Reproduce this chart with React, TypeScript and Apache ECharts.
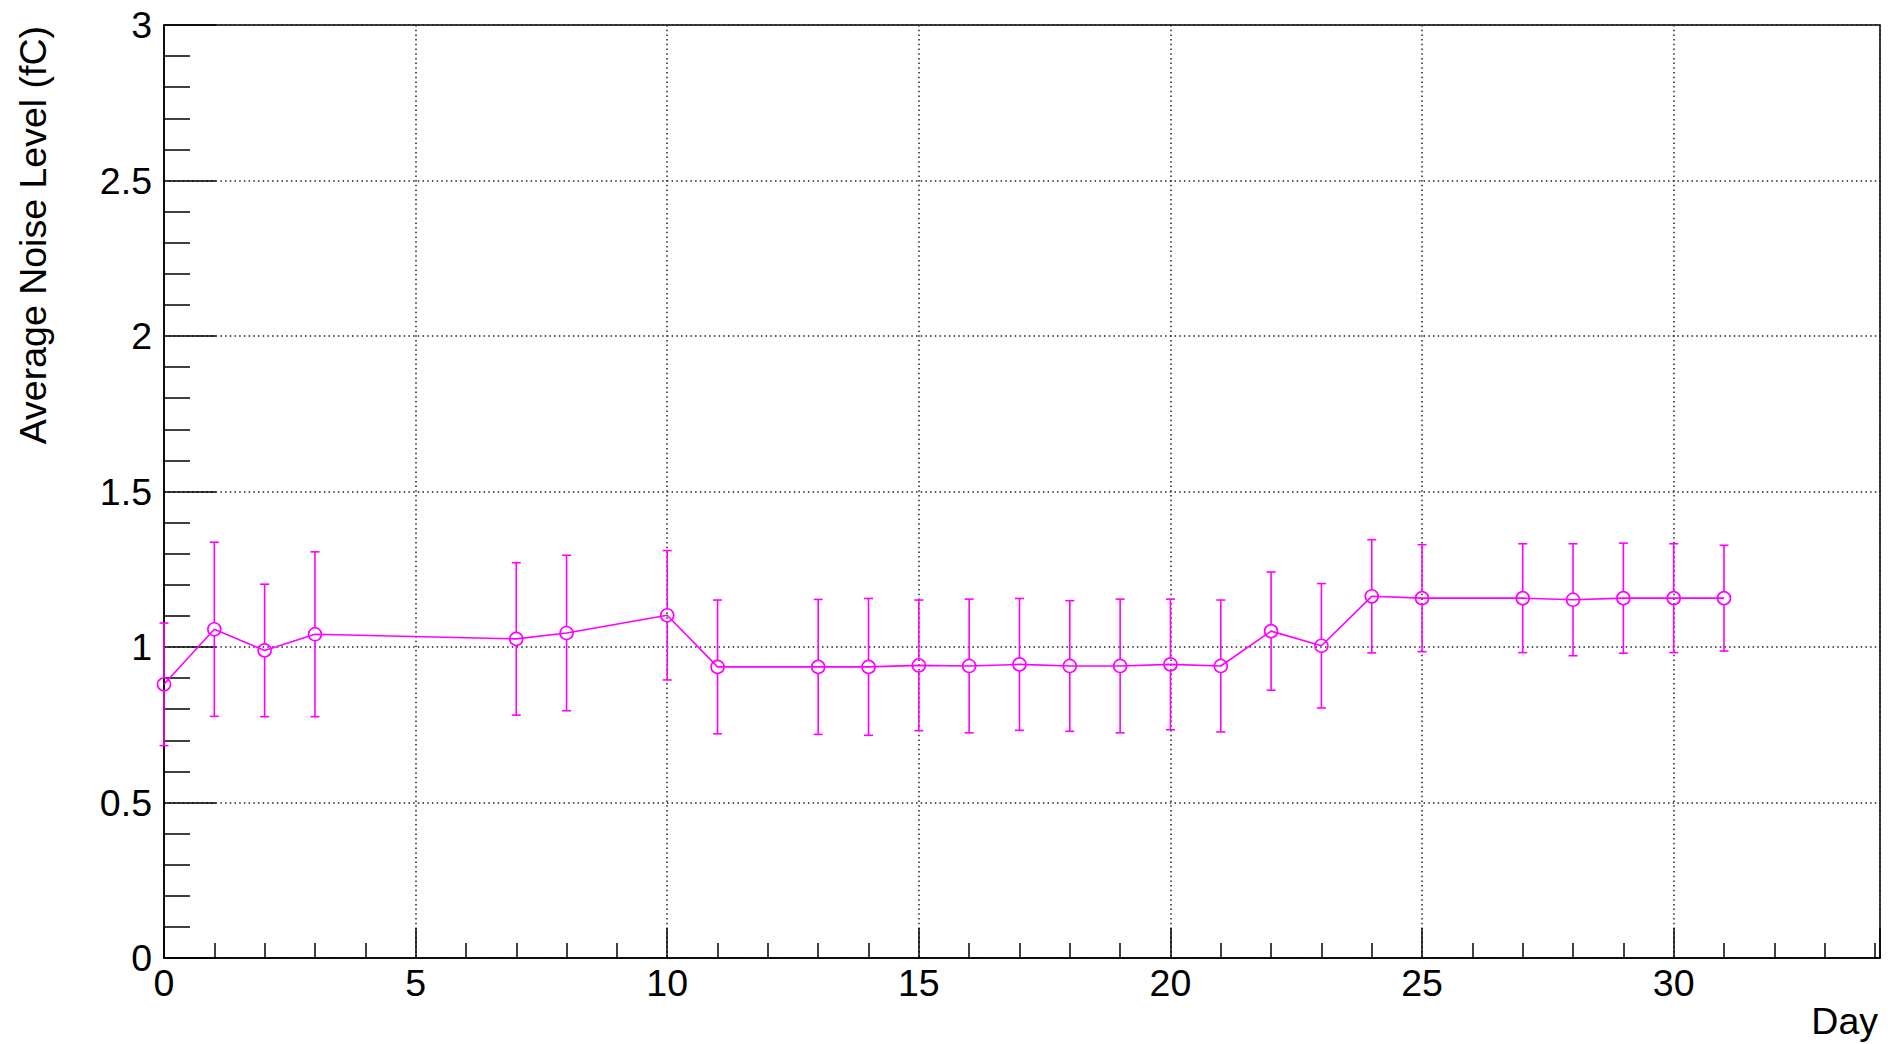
import React, { useEffect, useRef } from "react";
import * as echarts from "echarts";

const days = [0, 1, 2, 3, 7, 8, 10, 11, 13, 14, 15, 16, 17, 18, 19, 20, 21, 22, 23, 24, 25, 27, 28, 29, 30, 31];
const noise = [0.88, 1.057, 0.989, 1.041, 1.026, 1.045, 1.102, 0.936, 0.936, 0.936, 0.941, 0.939, 0.944, 0.939, 0.939, 0.944, 0.939, 1.051, 1.004, 1.163, 1.157, 1.157, 1.152, 1.157, 1.157, 1.157];
const noiseErr = [0.197, 0.28, 0.213, 0.265, 0.245, 0.25, 0.208, 0.215, 0.217, 0.22, 0.21, 0.215, 0.212, 0.21, 0.215, 0.21, 0.212, 0.19, 0.2, 0.182, 0.172, 0.175, 0.18, 0.177, 0.175, 0.17];
const xTitle = "Day";
const yTitle = "Average Noise Level (fC)";

const MAGENTA = "#ff00ff";
const FONT = "Liberation Sans, Arial, Helvetica, sans-serif";

export default function App() {
  const ref = useRef<HTMLDivElement>(null);
  useEffect(() => {
    if (!ref.current) return;
    const chart = echarts.init(ref.current, null, { renderer: "svg" });
    const lineData = days.map((d, i) => [d, noise[i]]);
    const errData = days.map((d, i) => [d, noise[i], noise[i] - noiseErr[i], noise[i] + noiseErr[i]]);
    const R = 6.5;
    const axisCommon = {
      axisLine: { show: true, lineStyle: { color: "#000", width: 1.5 } },
      axisLabel: { color: "#000", fontFamily: FONT, fontSize: 37.5 },
      splitLine: { show: true, lineStyle: { color: "#222", width: 1.5, type: [1.5, 3.2] } },
      minorSplitLine: { show: false },
    };
    chart.setOption({
      animation: false,
      backgroundColor: "#fff",
      grid: {
        left: 164,
        top: 25,
        right: 8,
        bottom: 86,
        show: true,
        borderColor: "#000",
        borderWidth: 1.5,
        backgroundColor: "transparent",
      },
      xAxis: {
        type: "value",
        min: 0,
        max: 34.1,
        interval: 5,
        ...axisCommon,
        axisLabel: { ...axisCommon.axisLabel, margin: 6, showMaxLabel: false },
        axisTick: { show: true, inside: true, length: 30, lineStyle: { color: "#000", width: 1.5 } },
        minorTick: { show: true, splitNumber: 5, length: 15, lineStyle: { color: "#000", width: 1.5 } },
      },
      yAxis: {
        type: "value",
        min: 0,
        max: 3,
        interval: 0.5,
        ...axisCommon,
        axisLabel: { ...axisCommon.axisLabel, margin: 12 },
        axisTick: { show: true, inside: true, length: 52, lineStyle: { color: "#000", width: 1.5 } },
        minorTick: { show: true, splitNumber: 5, length: 26, lineStyle: { color: "#000", width: 1.5 } },
      },
      graphic: [
        {
          type: "text",
          x: 33,
          y: 26,
          rotation: Math.PI / 2,
          style: { text: yTitle, font: `37.5px ${FONT}`, fill: "#000", align: "right", verticalAlign: "middle" },
        },
        {
          type: "text",
          x: 1878,
          y: 1021,
          style: { text: xTitle, font: `37.5px ${FONT}`, fill: "#000", align: "right", verticalAlign: "middle" },
        },
      ],
      series: [
        {
          type: "custom",
          clip: false,
          z: 3,
          data: errData,
          encode: { x: 0, y: [1, 2, 3] },
          renderItem: (params: any, api: any) => {
            const x = api.value(0);
            const c = api.coord([x, api.value(1)]);
            const lo = api.coord([x, api.value(2)]);
            const hi = api.coord([x, api.value(3)]);
            const style = { stroke: MAGENTA, lineWidth: 1.6 };
            const cap = 4.5;
            return {
              type: "group",
              children: [
                { type: "line", shape: { x1: c[0], y1: hi[1], x2: c[0], y2: c[1] - R }, style },
                { type: "line", shape: { x1: c[0], y1: c[1] + R, x2: c[0], y2: lo[1] }, style },
                { type: "line", shape: { x1: c[0] - cap, y1: hi[1], x2: c[0] + cap, y2: hi[1] }, style },
                { type: "line", shape: { x1: c[0] - cap, y1: lo[1], x2: c[0] + cap, y2: lo[1] }, style },
              ],
            };
          },
        },
        {
          type: "line",
          z: 4,
          clip: false,
          data: lineData,
          symbol: "circle",
          symbolSize: R * 2,
          itemStyle: { color: "rgba(0,0,0,0)", borderColor: MAGENTA, borderWidth: 1.6 },
          lineStyle: { color: MAGENTA, width: 1.6 },
        },
      ],
    });
    return () => chart.dispose();
  }, []);
  return (
    <div
      ref={ref}
      style={{ position: "fixed", left: 0, top: 0, width: 1888, height: 1044, background: "#fff" }}
    />
  );
}
